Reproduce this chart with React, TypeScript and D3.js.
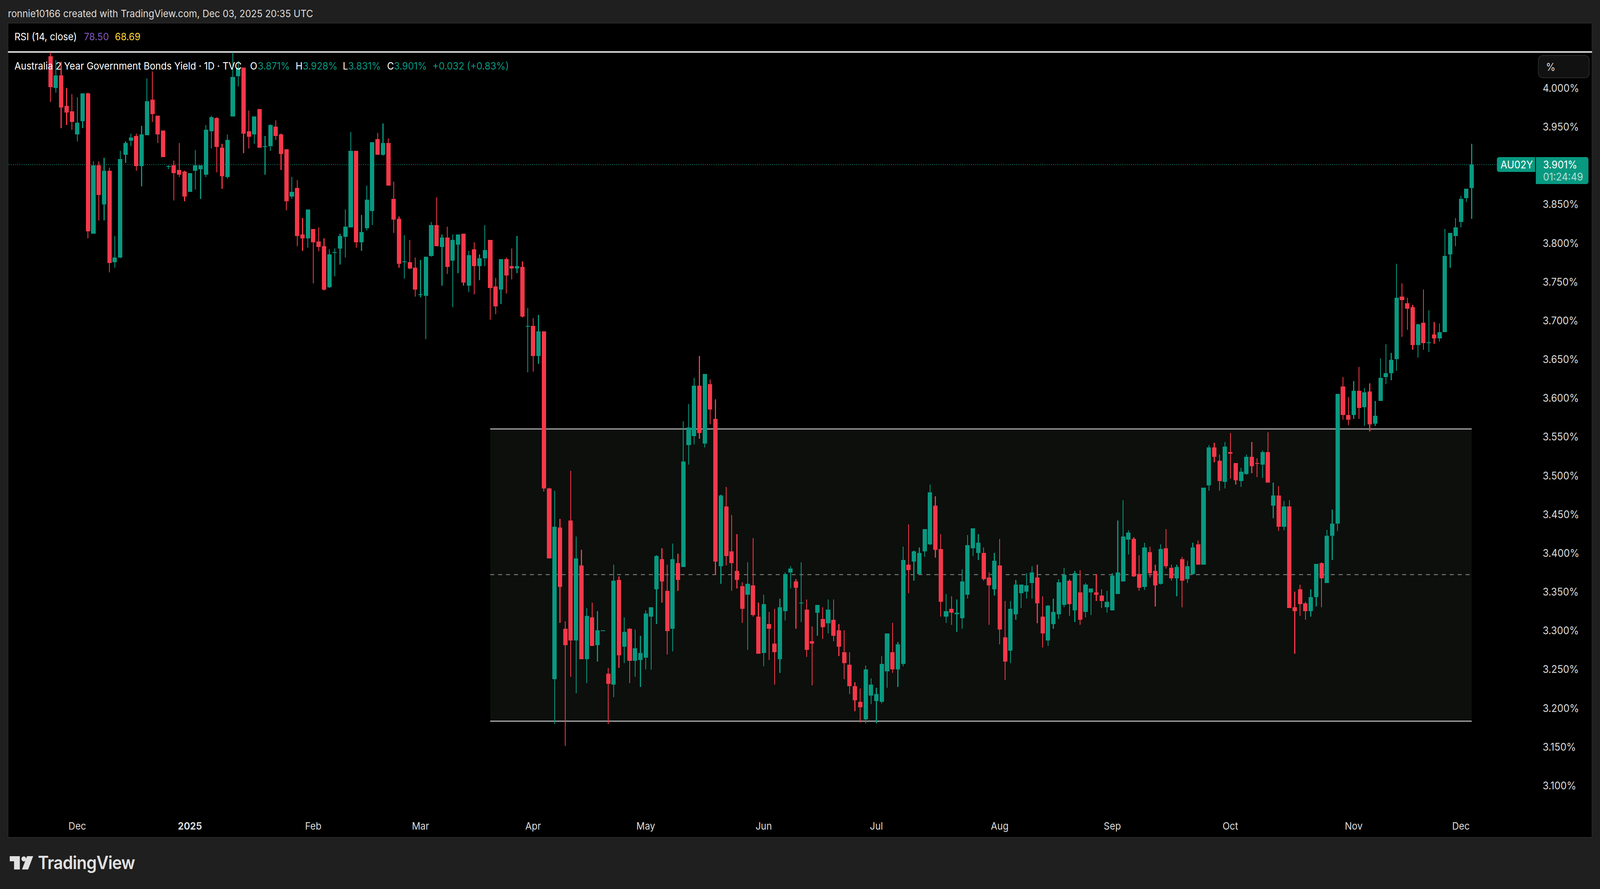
import React from "react";
import * as d3 from "d3";

const opens = [
4.041,4.000,4.016,3.977,3.970,3.940,3.957,3.993,3.812,3.900,
3.850,3.893,3.775,3.781,3.914,3.932,3.938,3.899,3.939,3.985,
3.964,3.945,3.898,3.900,3.894,3.892,3.866,3.893,3.895,3.888,
3.944,3.961,3.923,3.885,3.963,4.015,4.026,3.944,3.940,3.973,
3.924,3.925,3.950,3.940,3.921,3.860,3.871,3.811,3.806,3.818,
3.802,3.796,3.743,3.787,3.793,3.808,3.820,3.919,3.801,3.819,
3.841,3.934,3.914,3.929,3.857,3.831,3.775,3.775,3.768,3.733,
3.732,3.783,3.823,3.795,3.807,3.777,3.798,3.812,3.745,3.792,
3.770,3.780,3.804,3.744,3.740,3.779,3.770,3.767,3.769,3.692,
3.693,3.654,3.686,3.483,3.237,3.433,3.302,3.442,3.287,3.384,
3.263,3.317,3.281,3.299,3.244,3.230,3.365,3.279,3.302,3.261,
3.262,3.265,3.318,3.353,3.392,3.351,3.302,3.387,3.382,3.539,
3.551,3.616,3.541,3.618,3.573,3.383,3.460,3.402,3.377,3.357,
3.346,3.358,3.318,3.271,3.308,3.283,3.263,3.325,3.375,3.363,
3.335,3.327,3.286,3.323,3.315,3.309,3.314,3.300,3.272,3.256,
3.228,3.208,3.185,3.216,3.209,3.208,3.247,3.272,3.250,3.257,
3.385,3.389,3.373,3.402,3.411,3.461,3.405,3.318,3.328,3.321,
3.316,3.346,3.406,3.400,3.400,3.368,3.353,3.384,3.291,3.274,
3.321,3.348,3.350,3.361,3.368,3.318,3.287,3.308,3.321,3.333,
3.364,3.326,3.349,3.324,3.349,3.349,3.345,3.330,3.326,3.347,
3.363,3.417,3.418,3.373,3.356,3.401,3.377,3.360,3.406,3.381,
3.367,3.392,3.366,3.373,3.411,3.385,3.487,3.536,3.519,3.492,
3.530,3.516,3.493,3.502,3.524,3.516,3.514,3.530,3.461,3.474,
3.434,3.460,3.330,3.353,3.335,3.325,3.343,3.387,3.361,3.422,
3.438,3.615,3.578,3.578,3.609,3.588,3.608,3.567,3.596,3.627,
3.632,3.650,3.731,3.722,3.717,3.668,3.697,3.671,3.682,3.677,
3.685,3.785,3.809,3.827,3.858,3.871,
];
const highs = [
4.060,4.036,4.034,4.000,3.992,3.988,3.993,3.994,3.905,3.905,
3.910,3.897,3.809,3.919,3.931,3.941,3.941,3.951,4.012,4.021,
3.964,3.945,3.900,3.906,3.929,3.893,3.890,3.920,3.900,3.952,
3.964,3.962,3.928,3.940,4.050,4.035,4.026,3.971,3.963,3.973,
3.938,3.953,3.958,3.941,3.921,3.885,3.881,3.832,3.843,3.818,
3.820,3.806,3.792,3.793,3.812,3.843,3.943,3.919,3.836,3.874,
3.930,3.942,3.954,3.935,3.879,3.834,3.810,3.804,3.781,3.778,
3.782,3.827,3.859,3.811,3.821,3.811,3.811,3.812,3.790,3.801,
3.785,3.823,3.804,3.755,3.779,3.781,3.793,3.809,3.776,3.716,
3.703,3.707,3.686,3.484,3.480,3.444,3.312,3.506,3.421,3.404,
3.329,3.336,3.325,3.300,3.252,3.385,3.370,3.317,3.303,3.301,
3.293,3.326,3.330,3.397,3.406,3.385,3.412,3.399,3.570,3.592,
3.626,3.654,3.631,3.624,3.598,3.475,3.485,3.449,3.424,3.362,
3.388,3.419,3.336,3.346,3.324,3.328,3.341,3.375,3.383,3.366,
3.388,3.340,3.305,3.333,3.330,3.340,3.340,3.308,3.300,3.272,
3.233,3.225,3.255,3.238,3.226,3.267,3.296,3.310,3.285,3.408,
3.437,3.403,3.407,3.431,3.488,3.473,3.424,3.347,3.344,3.340,
3.379,3.423,3.432,3.424,3.407,3.375,3.400,3.418,3.338,3.338,
3.365,3.359,3.374,3.383,3.385,3.344,3.333,3.341,3.366,3.381,
3.366,3.377,3.378,3.361,3.354,3.373,3.353,3.351,3.374,3.442,
3.468,3.429,3.420,3.397,3.413,3.408,3.385,3.411,3.431,3.385,
3.385,3.395,3.390,3.413,3.416,3.484,3.539,3.542,3.527,3.543,
3.555,3.516,3.510,3.527,3.543,3.522,3.532,3.556,3.491,3.486,
3.467,3.468,3.350,3.359,3.337,3.353,3.386,3.388,3.430,3.456,
3.605,3.627,3.601,3.622,3.640,3.613,3.619,3.596,3.651,3.669,
3.658,3.773,3.748,3.729,3.720,3.696,3.740,3.713,3.698,3.696,
3.818,3.813,3.832,3.861,3.870,3.928,
];
const lows = [
3.982,3.994,3.948,3.952,3.946,3.931,3.948,3.806,3.812,3.829,
3.829,3.762,3.768,3.780,3.903,3.925,3.893,3.873,3.939,3.956,
3.929,3.911,3.895,3.855,3.885,3.854,3.866,3.869,3.857,3.885,
3.922,3.891,3.870,3.883,3.963,4.002,3.916,3.922,3.928,3.923,
3.888,3.919,3.933,3.894,3.842,3.857,3.796,3.790,3.794,3.748,
3.789,3.739,3.742,3.757,3.772,3.781,3.820,3.794,3.790,3.816,
3.823,3.914,3.913,3.874,3.813,3.768,3.754,3.766,3.731,3.730,
3.676,3.782,3.796,3.745,3.760,3.717,3.761,3.745,3.737,3.734,
3.752,3.770,3.701,3.708,3.721,3.735,3.753,3.761,3.704,3.633,
3.634,3.644,3.479,3.393,3.179,3.310,3.151,3.240,3.219,3.263,
3.232,3.280,3.260,3.299,3.179,3.214,3.252,3.258,3.232,3.240,
3.227,3.250,3.249,3.308,3.336,3.269,3.273,3.351,3.382,3.514,
3.540,3.547,3.536,3.566,3.372,3.360,3.384,3.351,3.354,3.310,
3.275,3.318,3.270,3.254,3.262,3.230,3.245,3.313,3.354,3.302,
3.311,3.266,3.229,3.293,3.289,3.296,3.286,3.267,3.237,3.218,
3.196,3.181,3.180,3.205,3.180,3.206,3.226,3.245,3.227,3.254,
3.348,3.364,3.373,3.395,3.410,3.394,3.318,3.310,3.307,3.298,
3.302,3.341,3.396,3.391,3.364,3.307,3.345,3.282,3.236,3.258,
3.314,3.329,3.341,3.341,3.309,3.278,3.280,3.302,3.315,3.330,
3.319,3.311,3.307,3.317,3.320,3.338,3.329,3.323,3.326,3.347,
3.363,3.398,3.369,3.351,3.352,3.368,3.331,3.359,3.380,3.364,
3.344,3.330,3.361,3.372,3.385,3.385,3.480,3.517,3.480,3.483,
3.496,3.488,3.485,3.501,3.503,3.498,3.497,3.491,3.445,3.428,
3.429,3.329,3.270,3.319,3.314,3.318,3.331,3.330,3.361,3.391,
3.428,3.572,3.565,3.573,3.573,3.564,3.557,3.564,3.596,3.618,
3.623,3.635,3.679,3.688,3.662,3.652,3.662,3.659,3.670,3.673,
3.685,3.768,3.796,3.820,3.853,3.831,
];
const closes = [
4.001,4.016,3.975,3.968,3.956,3.955,3.993,3.815,3.900,3.862,
3.893,3.774,3.781,3.908,3.929,3.936,3.899,3.940,3.983,3.966,
3.940,3.911,3.899,3.890,3.888,3.860,3.890,3.900,3.900,3.946,
3.962,3.924,3.886,3.933,4.014,4.026,3.941,3.937,3.963,3.923,
3.925,3.952,3.938,3.915,3.854,3.866,3.809,3.806,3.843,3.801,
3.795,3.740,3.785,3.788,3.809,3.821,3.919,3.801,3.814,3.856,
3.930,3.914,3.929,3.874,3.830,3.773,3.776,3.767,3.740,3.734,
3.782,3.823,3.796,3.807,3.769,3.804,3.811,3.749,3.784,3.770,
3.780,3.791,3.742,3.718,3.779,3.758,3.767,3.770,3.705,3.693,
3.654,3.686,3.483,3.393,3.434,3.356,3.281,3.287,3.393,3.263,
3.319,3.280,3.300,3.300,3.231,3.364,3.268,3.298,3.261,3.277,
3.271,3.322,3.330,3.396,3.363,3.299,3.392,3.365,3.518,3.562,
3.616,3.555,3.631,3.585,3.389,3.474,3.396,3.387,3.365,3.328,
3.360,3.320,3.270,3.334,3.302,3.272,3.330,3.373,3.380,3.355,
3.336,3.275,3.283,3.333,3.304,3.327,3.293,3.279,3.258,3.228,
3.210,3.201,3.250,3.230,3.218,3.257,3.296,3.250,3.282,3.391,
3.378,3.402,3.400,3.431,3.478,3.404,3.337,3.325,3.323,3.323,
3.363,3.410,3.432,3.413,3.366,3.358,3.390,3.301,3.260,3.328,
3.359,3.359,3.358,3.375,3.335,3.296,3.332,3.324,3.362,3.372,
3.334,3.374,3.314,3.359,3.354,3.346,3.338,3.337,3.371,3.375,
3.421,3.426,3.370,3.355,3.407,3.374,3.358,3.405,3.383,3.367,
3.382,3.364,3.383,3.407,3.385,3.484,3.536,3.524,3.493,3.537,
3.528,3.494,3.505,3.524,3.512,3.515,3.530,3.491,3.474,3.434,
3.460,3.329,3.325,3.334,3.325,3.343,3.386,3.367,3.422,3.438,
3.605,3.578,3.572,3.609,3.587,3.607,3.566,3.577,3.626,3.632,
3.649,3.729,3.726,3.715,3.668,3.695,3.671,3.672,3.677,3.685,
3.783,3.813,3.820,3.857,3.870,3.901,
];

const rangeTop = 3.56;
const rangeMid = 3.372;
const rangeBottom = 3.183;
const rangeStartIndex = 82;
const lastPrice = 3.901;

const priceTicks = [4.0,3.95,3.9,3.85,3.8,3.75,3.7,3.65,3.6,3.55,3.5,3.45,3.4,3.35,3.3,3.25,3.2,3.15,3.1];
const timeTickLabels = ["Dec","2025","Feb","Mar","Apr","May","Jun","Jul","Aug","Sep","Oct","Nov","Dec"];
const timeTickIndex = [5,26,49,69,90,111,133,154,177,198,220,243,263];

const UP = "#089981";
const DOWN = "#f7384a";
const FONT = "Inter, Roboto, sans-serif";

export default function App() {
  const W = 4439, H = 2275;
  const y = d3.scaleLinear().domain([4.0, 3.1]).range([225, 2010]);
  const x = d3.scaleLinear().domain([0, opens.length - 1]).range([140, 4083]);
  const fs = 26;
  const legend = (tx: number, ty: number, t: string, fill: string, size = fs) => (
    <text x={tx} y={ty} fill={fill} fontSize={size} fontFamily={FONT} dominantBaseline="central">{t}</text>
  );
  return (
    <svg viewBox={`0 0 ${W} ${H}`} preserveAspectRatio="none" style={{ position: "fixed", left: 0, top: 0, width: "100vw", height: "100vh", background: "#1f1f1f" }}>
      <defs>
        <clipPath id="pane"><rect x={22} y={134} width={4395} height={2008} /></clipPath>
      </defs>
      <text x={22} y={35} fill="#dcdcdc" fontSize={26} fontFamily={FONT} dominantBaseline="central">ronnie10166 created with TradingView.com, Dec 03, 2025 20:35 UTC</text>
      <rect x={22} y={59} width={4395} height={2084} fill="#000" stroke="#2a2a2a" strokeWidth={2} />
      <rect x={22} y={131} width={4395} height={4} fill="#d9d9d9" />

      {/* range box */}
      <rect x={x(rangeStartIndex)} y={y(rangeTop)} width={x(opens.length - 1) - x(rangeStartIndex)} height={y(rangeBottom) - y(rangeTop)} fill="#0c0f0c" />
      <line x1={x(rangeStartIndex)} x2={x(opens.length - 1)} y1={y(rangeMid)} y2={y(rangeMid)} stroke="#8f8f8f" strokeWidth={2} strokeDasharray="11 11" />
      <line x1={x(rangeStartIndex)} x2={x(opens.length - 1)} y1={y(rangeTop)} y2={y(rangeTop)} stroke="#a8a8a8" strokeWidth={3} />
      <line x1={x(rangeStartIndex)} x2={x(opens.length - 1)} y1={y(rangeBottom)} y2={y(rangeBottom)} stroke="#a8a8a8" strokeWidth={3} />

      {/* last price line */}
      <line x1={24} x2={4153} y1={y(lastPrice)} y2={y(lastPrice)} stroke={UP} strokeWidth={2} strokeDasharray="2 4" />

      <g clipPath="url(#pane)" shapeRendering="crispEdges">
        {opens.map((o, i) => {
          const c = closes[i];
          const col = c >= o ? UP : DOWN;
          const top = y(Math.max(o, c));
          const bot = y(Math.min(o, c));
          return (
            <g key={i} fill={col}>
              <rect x={x(i) - 1.25} y={y(highs[i])} width={2.5} height={y(lows[i]) - y(highs[i])} />
              <rect x={x(i) - 6} y={top} width={12} height={Math.max(2, bot - top)} />
            </g>
          );
        })}
      </g>

      {/* legends */}
      {legend(40, 94, "RSI (14, close)", "#ffffff")}
      {legend(233, 94, "78.50", "#7e57c2")}
      {legend(319, 94, "68.69", "#fdd835")}
      {legend(40, 169, "Australia 2 Year Government Bonds Yield · 1D · TVC", "#ffffff")}
      {legend(694, 169, "O", "#ffffff")}
      {legend(715, 169, "3.871%", UP)}
      {legend(820, 169, "H", "#ffffff")}
      {legend(840, 169, "3.928%", UP)}
      {legend(951, 169, "L", "#ffffff")}
      {legend(966, 169, "3.831%", UP)}
      {legend(1074, 169, "C", "#ffffff")}
      {legend(1093, 169, "3.901%", UP)}
      {legend(1200, 169, "+0.032 (+0.83%)", UP)}

      {/* price axis */}
      {priceTicks.map((p) => (
        <text key={p} x={4280} y={y(p)} fill="#dbdbdb" fontSize={27} fontFamily={FONT} dominantBaseline="central">{d3.format(".3f")(p)}%</text>
      ))}
      <rect x={4268} y={142} width={141} height={57} rx={12} fill="#111111" stroke="#2a2a2a" strokeWidth={2} />
      <text x={4289} y={171} fill="#dbdbdb" fontSize={27} fontFamily={FONT} dominantBaseline="central">%</text>

      {/* last price tags */}
      <path d="M4159 402H4259V440H4159a6 6 0 0 1-6-6V408a6 6 0 0 1 6-6Z" fill={UP} />
      <text x={4163} y={y(lastPrice)} fill="#ffffff" fontSize={27} fontFamily={FONT} dominantBaseline="central">AU02Y</text>
      <path d="M4261 402H4401a6 6 0 0 1 6 6V465a6 6 0 0 1-6 6H4261Z" fill={UP} />
      <text x={4281} y={y(lastPrice)} fill="#ffffff" fontSize={27} fontFamily={FONT} dominantBaseline="central">{lastPrice.toFixed(3)}%</text>
      <text x={4281} y={452} fill="#ffffff" fillOpacity={0.7} fontSize={27} fontFamily={FONT} dominantBaseline="central">01:24:49</text>

      {/* time axis */}
      {timeTickLabels.map((t, i) => (
        <text key={i} x={x(timeTickIndex[i])} y={2114} textAnchor="middle" fill="#dbdbdb" fontSize={26} fontWeight={t === "2025" ? 700 : 400} fontFamily={FONT} dominantBaseline="central">{t}</text>
      ))}

      {/* logo */}
      <g fill="#e0e0e0">
        <path d="M27 2191H55V2225H39V2204H27Z" />
        <circle cx={66} cy={2198} r={6.5} />
        <path d="M75 2191H92L78 2225H61Z" />
      </g>
      <text x={105} y={2224} fill="#e0e0e0" fontSize={46} fontWeight={600} fontFamily={FONT} letterSpacing={-1}>TradingView</text>
    </svg>
  );
}
